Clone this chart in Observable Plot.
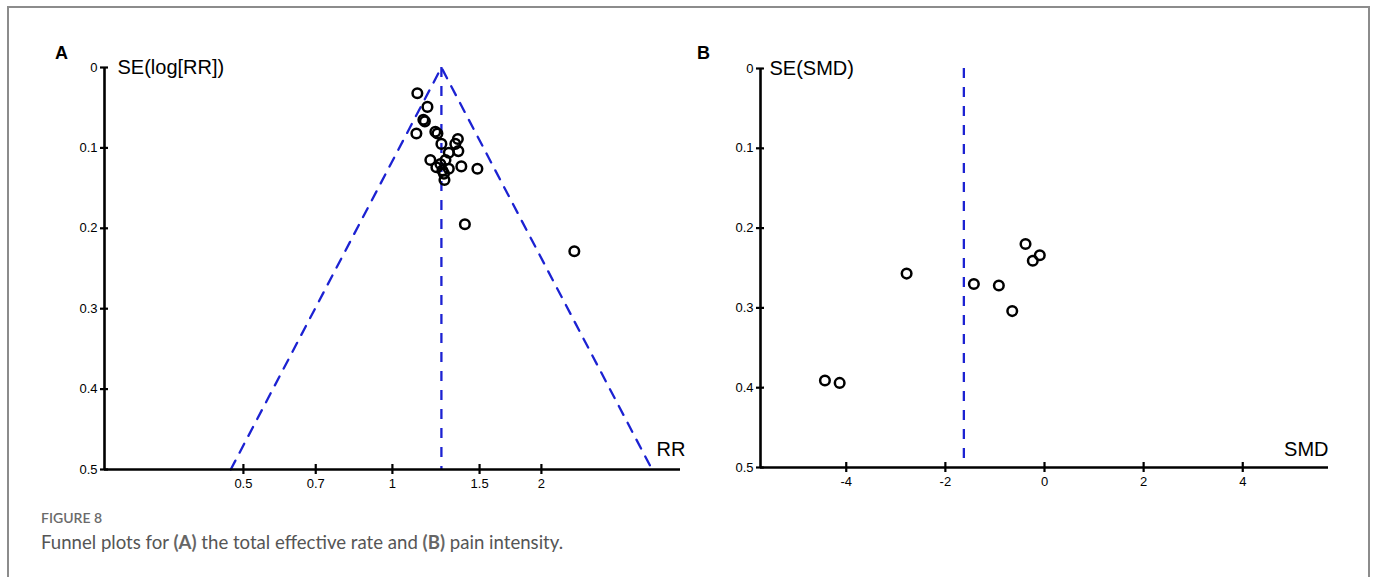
<!DOCTYPE html>
<html>
<head>
<meta charset="utf-8">
<script src="https://cdn.jsdelivr.net/npm/d3@7"></script>
<script src="https://cdn.jsdelivr.net/npm/@observablehq/plot@0.6"></script>
<style>
  html, body { margin: 0; padding: 0; background: #fff; }
  #fig { position: relative; width: 1375px; height: 577px; overflow: hidden; background: #fff; }
  #box { position: absolute; left: 7px; top: 6px; width: 1359px; height: 620px;
         border-top: 2px solid #8c8c8c; border-left: 2px solid #8c8c8c; border-right: 2px solid #8c8c8c; }
  .panel { position: absolute; top: 0; }
  .letter { position: absolute; font-family: "Liberation Sans", Arial, sans-serif; font-weight: bold; font-size: 18px; color: #000; }
  #cap1 { position: absolute; left: 41px; top: 509px; font-family: Lato, "Noto Sans", sans-serif; font-size: 14px; font-weight: 600; color: #6a6a6a; }
  #cap2 { position: absolute; left: 41px; top: 531px; font-family: Lato, "Noto Sans", sans-serif; font-size: 18.6px; color: #555; }
  #cap2 b { color: #666; font-weight: 700; }
</style>
</head>
<body>
<div id="fig">
  <div id="box"></div>
  <div id="pA" class="panel" style="left:0px"></div>
  <div id="pB" class="panel" style="left:660px"></div>
  <div class="letter" style="left:55px; top:43px">A</div>
  <div class="letter" style="left:697px; top:43px">B</div>
  <div id="cap1">FIGURE 8</div>
  <div id="cap2">Funnel plots for <b>(A)</b> the total effective rate and <b>(B)</b> pain intensity.</div>
</div>
<script>
// ---- data ----
const rrTicks = [0.5, 0.7, 1, 1.5, 2];
const seTicks = [0, 0.1, 0.2, 0.3, 0.4, 0.5];
const seTickLabels = ["0", "0.1", "0.2", "0.3", "0.4", "0.5"];
const smdTicks = [-4, -2, 0, 2, 4];

const rrValues = [1.123, 1.177, 1.155, 1.163, 1.118, 1.221, 1.233, 1.256, 1.356, 1.340, 1.359, 1.300,
                  1.193, 1.227, 1.250, 1.280, 1.300, 1.271, 1.274, 1.378, 1.485, 1.262, 1.401, 2.331];
const rrSE =     [0.032, 0.049, 0.065, 0.067, 0.082, 0.080, 0.082, 0.095, 0.089, 0.095, 0.104, 0.106,
                  0.115, 0.124, 0.120, 0.115, 0.126, 0.132, 0.140, 0.123, 0.126, 0.128, 0.195, 0.2285];

const smdValues = [-2.782, -1.425, -0.921, -0.651, -0.383, -0.236, -0.095, -4.43, -4.133];
const smdSE =     [0.257, 0.270, 0.272, 0.304, 0.220, 0.241, 0.234, 0.391, 0.394];

const pooledRR = 1.256;
const pooledSMD = -1.627;
const rrDomain = [0.262, 3.82];
const smdDomain = [-5.73, 5.73];
const seDomain = [0, 0.5];
const zCrit = 1.96;

// ---- derived tables ----
const rrData = rrValues.map((v, i) => ({x: v, se: rrSE[i]}));
const smdData = smdValues.map((v, i) => ({x: v, se: smdSE[i]}));
const seMax = seDomain[1];
const funnel = [
  {x: Math.exp(Math.log(pooledRR) - zCrit * seMax), se: seMax},
  {x: pooledRR, se: 0},
  {x: Math.exp(Math.log(pooledRR) + zCrit * seMax), se: seMax}
];

const blue = "#1c22d2";
const dash = "10,9";
const font = "'Liberation Sans', Arial, sans-serif";
const seFmt = d => seTickLabels[seTicks.indexOf(d)] ?? String(d);

const plotA = Plot.plot({
  width: 700, height: 500,
  marginLeft: 104, marginRight: 20, marginTop: 67, marginBottom: 31,
  x: {type: "log", domain: rrDomain, label: null},
  y: {domain: seDomain, reverse: true, label: null},
  style: {fontFamily: font, fontSize: "13px", background: "transparent", overflow: "visible", color: "#000"},
  marks: [
    Plot.line(funnel, {x: "x", y: "se", stroke: blue, strokeWidth: 2.3, strokeDasharray: dash}),
    Plot.ruleX([pooledRR], {y1: seDomain[0], y2: seDomain[1], stroke: blue, strokeWidth: 2.3, strokeDasharray: dash}),
    Plot.ruleX([rrDomain[0]], {stroke: "#000", strokeWidth: 2.6}),
    Plot.ruleY([seDomain[1]], {stroke: "#000", strokeWidth: 2.6}),
    Plot.axisY({ticks: seTicks, tickFormat: seFmt, tickSize: 8, dx: 4, tickPadding: 3, strokeWidth: 2.2, label: null, fontSize: 13}),
    Plot.axisX({ticks: rrTicks, anchor: "bottom", tickFormat: d => String(d), tickSize: 10, dy: -5, tickPadding: 4, strokeWidth: 2.2, label: null, fontSize: 13}),
    Plot.dot(rrData, {x: "x", y: "se", r: 4.8, stroke: "#000", strokeWidth: 2.5, fill: "none"}),
    Plot.text(["SE(log[RR])"], {frameAnchor: "top-left", dx: 13, textAnchor: "start", lineAnchor: "middle", fontSize: 20, fill: "#000"}),
    Plot.text(["RR"], {frameAnchor: "bottom-right", dx: 5, dy: -20, textAnchor: "end", lineAnchor: "middle", fontSize: 20, fill: "#000"})
  ]
});
document.getElementById("pA").appendChild(plotA);

const plotB = Plot.plot({
  width: 700, height: 500,
  marginLeft: 100, marginRight: 32, marginTop: 68, marginBottom: 33,
  x: {domain: smdDomain, label: null},
  y: {domain: seDomain, reverse: true, label: null},
  style: {fontFamily: font, fontSize: "13px", background: "transparent", overflow: "visible", color: "#000"},
  marks: [
    Plot.ruleX([pooledSMD], {y1: seDomain[0], y2: seDomain[1], stroke: blue, strokeWidth: 2.3, strokeDasharray: dash}),
    Plot.ruleX([smdDomain[0]], {stroke: "#000", strokeWidth: 2.6}),
    Plot.ruleY([seDomain[1]], {stroke: "#000", strokeWidth: 2.6}),
    Plot.axisY({ticks: seTicks, tickFormat: seFmt, tickSize: 8, dx: 4, tickPadding: 3, strokeWidth: 2.2, label: null, fontSize: 13}),
    Plot.axisX({ticks: smdTicks, anchor: "bottom", tickFormat: d => String(d), tickSize: 10, dy: -5, tickPadding: 4, strokeWidth: 2.2, label: null, fontSize: 13}),
    Plot.dot(smdData, {x: "x", y: "se", r: 4.8, stroke: "#000", strokeWidth: 2.5, fill: "none"}),
    Plot.text(["SE(SMD)"], {frameAnchor: "top-left", dx: 9, textAnchor: "start", lineAnchor: "middle", fontSize: 20, fill: "#000"}),
    Plot.text(["SMD"], {frameAnchor: "bottom-right", dx: 0, dy: -18, textAnchor: "end", lineAnchor: "middle", fontSize: 20, fill: "#000"})
  ]
});
document.getElementById("pB").appendChild(plotB);
</script>
</body>
</html>
